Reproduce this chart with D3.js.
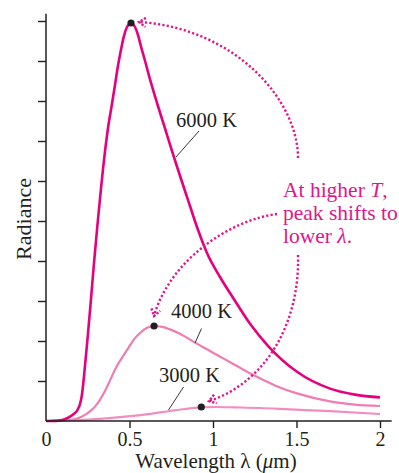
<!DOCTYPE html>
<html><head><meta charset="utf-8">
<script src="https://cdn.jsdelivr.net/npm/d3@7"></script>
<style>
html,body{margin:0;padding:0;background:#fff;}
svg{display:block;}
text{font-family:"Liberation Serif","Times New Roman",serif;}
</style></head><body>
<svg id="c" width="399" height="473"></svg>
<script>
// ---- data ----
const lambda6000 = [0, 0.072, 0.108, 0.144, 0.168, 0.186, 0.201, 0.213, 0.223, 0.235, 0.247, 0.268, 0.287, 0.308, 0.329, 0.353, 0.374, 0.392, 0.413, 0.431, 0.449, 0.467, 0.485, 0.509,
  0.533, 0.551, 0.569, 0.590, 0.617, 0.665, 0.719, 0.766, 0.850, 0.910, 0.964, 1.042, 1.120, 1.222, 1.329, 1.503, 1.701, 1.850, 2.0];
const radiance6000 = [0, 0.01, 0.04, 0.11, 0.18, 0.26, 0.39, 0.6, 0.93, 1.45, 1.98, 2.98, 3.93, 4.9, 5.8, 6.73, 7.4, 7.85, 8.4, 8.88, 9.28, 9.63, 9.85, 9.95,
  9.85, 9.65, 9.36, 9.05, 8.63, 7.95, 7.23, 6.6, 5.53, 4.78, 4.2, 3.6, 3.08, 2.43, 1.88, 1.23, 0.81, 0.66, 0.59];
const lambda4000 = [0, 0.084, 0.144, 0.186, 0.228, 0.263, 0.293, 0.323, 0.353, 0.383, 0.419, 0.455, 0.491, 0.527, 0.563, 0.605, 0.647,
  0.695, 0.743, 0.802, 0.892, 0.982, 1.072, 1.162, 1.251, 1.371, 1.503, 1.701, 1.850, 2.0];
const radiance4000 = [0, 0.005, 0.025, 0.06, 0.14, 0.24, 0.36, 0.53, 0.75, 1.01, 1.33, 1.58, 1.81, 2.04, 2.2, 2.33, 2.375,
  2.355, 2.29, 2.18, 1.96, 1.75, 1.54, 1.33, 1.13, 0.89, 0.69, 0.49, 0.41, 0.375];
const lambda3000 = [0, 0.144, 0.323, 0.473, 0.623, 0.743, 0.832, 0.922, 1.012, 1.132, 1.281, 1.461, 1.701, 2.0];
const radiance3000 = [0, 0.0125, 0.055, 0.11, 0.18, 0.25, 0.30, 0.34, 0.35, 0.34, 0.325, 0.29, 0.245, 0.175];
const seriesNames = ["6000 K", "4000 K", "3000 K"];
const peakLambda = [0.509, 0.647, 0.93];
const peakRadiance = [9.95, 2.375, 0.35];
const xTickValues = [0, 0.5, 1, 1.5, 2];
const xTickLabels = ["0", "0.5", "1", "1.5", "2"];
const yTickValues = [1, 2, 3, 4, 5, 6, 7, 8, 9, 10];

const series = [
  {name: seriesNames[0], lam: lambda6000, val: radiance6000, color: "#e6007e", width: 2.6},
  {name: seriesNames[1], lam: lambda4000, val: radiance4000, color: "#f07cb4", width: 2.2},
  {name: seriesNames[2], lam: lambda3000, val: radiance3000, color: "#f38dbf", width: 2.2}
];

const svg = d3.select("#c");
const x = d3.scaleLinear().domain([0, 2]).range([46, 380]);
const y = d3.scaleLinear().domain([0, 10]).range([421, 21]);
const ink = "#231f20";
const magenta = "#e0168a";

// curves
const line = d3.line().x(d => x(d[0])).y(d => y(d[1])).curve(d3.curveMonotoneX);
series.slice().reverse().forEach(s => {
  svg.append("path")
    .attr("d", line(s.lam.map((l, i) => [l, s.val[i]])))
    .attr("fill", "none").attr("stroke", s.color)
    .attr("stroke-width", s.width).attr("stroke-linejoin", "round");
});

// axes
const gx = svg.append("g").attr("transform", `translate(0,${y(0)})`)
  .call(d3.axisBottom(x).tickValues(xTickValues).tickSize(7).tickSizeOuter(0)
    .tickFormat((d, i) => xTickLabels[i]));
gx.select(".domain").remove();
gx.selectAll(".tick line").attr("stroke", ink).attr("stroke-width", 1.4)
  .filter(d => d === 0).remove();
gx.selectAll(".tick text").attr("fill", ink).attr("font-size", 20)
  .attr("font-family", "Liberation Serif").attr("dy", 0).attr("y", 24.5);

const gy = svg.append("g").attr("transform", `translate(${x(0)},0)`)
  .call(d3.axisLeft(y).tickValues(yTickValues).tickSize(8).tickSizeOuter(0).tickFormat(""));
gy.select(".domain").remove();
gy.selectAll(".tick line").attr("stroke", ink).attr("stroke-width", 1.4);

svg.append("line").attr("x1", x(0)).attr("x2", x(2.07)).attr("y1", y(0)).attr("y2", y(0))
  .attr("stroke", ink).attr("stroke-width", 1.5);
svg.append("line").attr("x1", x(0)).attr("x2", x(0)).attr("y1", y(0)).attr("y2", y(10.18))
  .attr("stroke", ink).attr("stroke-width", 1.5);

// axis titles
const xt = svg.append("text").attr("x", 216).attr("y", 468.3).attr("text-anchor", "middle")
  .attr("fill", ink).attr("font-size", 21);
xt.append("tspan").text("Wavelength λ (");
xt.append("tspan").attr("font-style", "italic").text("μ");
xt.append("tspan").text("m)");

svg.append("text").attr("transform", "translate(31,219) rotate(-90)")
  .attr("text-anchor", "middle").attr("fill", ink).attr("font-size", 22).text("Radiance");

// series labels with leader lines
const labels = [
  {i: 0, tx: 176, ty: 127, l: [[199, 131], [176, 157]]},
  {i: 1, tx: 171, ty: 318, l: [[201.5, 328.5], [195, 343]]},
  {i: 2, tx: 159, ty: 382, l: [[183.5, 387], [168.5, 410]]}
];
labels.forEach(o => {
  svg.append("text").attr("x", o.tx).attr("y", o.ty).attr("fill", ink)
    .attr("font-size", 20.5).text(seriesNames[o.i]);
  svg.append("line").attr("x1", o.l[0][0]).attr("y1", o.l[0][1])
    .attr("x2", o.l[1][0]).attr("y2", o.l[1][1])
    .attr("stroke", ink).attr("stroke-width", 0.9);
});

// annotation text
const ann = svg.append("text").attr("fill", magenta).attr("font-size", 21.5);
const l1 = ann.append("tspan").attr("x", 283).attr("y", 197);
l1.append("tspan").text("At higher ");
l1.append("tspan").attr("font-style", "italic").text("T");
l1.append("tspan").text(",");
ann.append("tspan").attr("x", 283).attr("y", 220).text("peak shifts to");
const l3 = ann.append("tspan").attr("x", 283).attr("y", 243);
l3.append("tspan").text("lower ");
l3.append("tspan").attr("font-style", "italic").text("λ");
l3.append("tspan").text(".");

// dotted arrows
const arrows = [
  {p0: [298, 158], c1: [298, 100], c2: [235, 28], p1: [139, 22]},
  {p0: [277, 214], c1: [230, 220], c2: [170, 260], p1: [154, 316]},
  {p0: [298, 255], c1: [300, 330], c2: [260, 385], p1: [209, 401]}
];
arrows.forEach(a => {
  const p = d3.path();
  p.moveTo(a.p0[0], a.p0[1]);
  p.bezierCurveTo(a.c1[0], a.c1[1], a.c2[0], a.c2[1], a.p1[0], a.p1[1]);
  svg.append("path").attr("d", p.toString()).attr("fill", "none")
    .attr("stroke", magenta).attr("stroke-width", 2.4).attr("stroke-dasharray", "2.2 2.2");
  // arrowhead chevron
  const dx = a.p1[0] - a.c2[0], dy = a.p1[1] - a.c2[1];
  const ang = Math.atan2(dy, dx);
  const len = 8, spread = 0.6;
  const h = d3.path();
  h.moveTo(a.p1[0] - len * Math.cos(ang - spread), a.p1[1] - len * Math.sin(ang - spread));
  h.lineTo(a.p1[0], a.p1[1]);
  h.lineTo(a.p1[0] - len * Math.cos(ang + spread), a.p1[1] - len * Math.sin(ang + spread));
  svg.append("path").attr("d", h.toString()).attr("fill", "none")
    .attr("stroke", magenta).attr("stroke-width", 2.4).attr("stroke-dasharray", "2.2 1.6");
});

// peak dots
peakLambda.forEach((l, i) => {
  svg.append("circle").attr("cx", x(l)).attr("cy", y(peakRadiance[i])).attr("r", 3.6).attr("fill", ink);
});
</script>
</body></html>
